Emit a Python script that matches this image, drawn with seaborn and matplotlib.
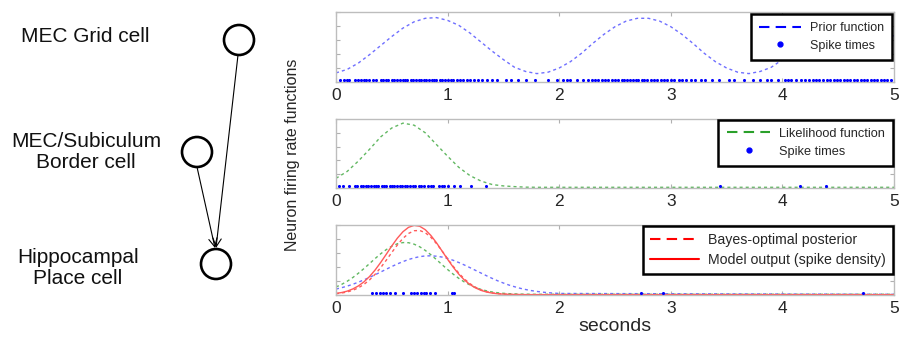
import numpy as np
import matplotlib.pyplot as plt
import seaborn as sns
from matplotlib.lines import Line2D
from matplotlib.patches import Circle

sns.set_theme(style='white')
plt.rcParams['font.family'] = ['Liberation Sans', 'DejaVu Sans']

# ---- data ----
# panels 1 and 2 sampled every 0.1 s from 0 to 5 s
t_coarse = np.round(np.arange(0, 5.01, 0.1), 2)
prior = [0.13, 0.18, 0.27, 0.39, 0.52, 0.65, 0.77, 0.86, 0.91, 0.92,
         0.88, 0.81, 0.70, 0.57, 0.44, 0.32, 0.21, 0.15, 0.12, 0.14,
         0.20, 0.29, 0.41, 0.55, 0.68, 0.79, 0.87, 0.91, 0.91, 0.87,
         0.79, 0.68, 0.55, 0.41, 0.29, 0.20, 0.14, 0.12, 0.15, 0.21,
         0.32, 0.44, 0.57, 0.70, 0.81, 0.88, 0.92, 0.91, 0.86, 0.77, 0.65]
likelihood = [0.14, 0.24, 0.39, 0.56, 0.74, 0.87, 0.94, 0.91, 0.80, 0.63,
              0.46, 0.30, 0.18, 0.10, 0.05, 0.03, 0.02, 0.012] + [0.01] * 33

# panel 3 sampled every 0.05 s up to 2 s, then flat to 5 s
t_fine = list(np.round(np.arange(0, 2.001, 0.05), 2)) + [5.0]
posterior = [0.018, 0.028, 0.043, 0.067, 0.102, 0.151, 0.215, 0.295, 0.390, 0.496,
             0.608, 0.715, 0.809, 0.879, 0.918, 0.922, 0.890, 0.825, 0.735, 0.630,
             0.518, 0.411, 0.313, 0.229, 0.162, 0.111, 0.073, 0.047, 0.030, 0.020,
             0.013, 0.009, 0.007, 0.006] + [0.005] * 8
model_out = [0.023, 0.035, 0.055, 0.086, 0.129, 0.187, 0.263, 0.356, 0.464, 0.581,
             0.701, 0.812, 0.904, 0.967, 0.994, 0.982, 0.933, 0.851, 0.747, 0.629,
             0.510, 0.398, 0.298, 0.215, 0.150, 0.101, 0.066, 0.042, 0.027, 0.017,
             0.012, 0.008, 0.007, 0.006] + [0.005] * 8
likelihood3 = [0.114, 0.151, 0.196, 0.249, 0.310, 0.377, 0.448, 0.520, 0.588, 0.648,
               0.697, 0.732, 0.749, 0.747, 0.726, 0.689, 0.637, 0.575, 0.506, 0.434,
               0.364, 0.298, 0.238, 0.186, 0.143, 0.107, 0.080, 0.059, 0.043, 0.032,
               0.024, 0.019, 0.016, 0.013, 0.012, 0.011] + [0.010] * 6
prior3 = [0.085, 0.104, 0.127, 0.153, 0.183, 0.216, 0.251, 0.289, 0.328, 0.368,
          0.407, 0.444, 0.477, 0.507, 0.530, 0.548, 0.558, 0.560, 0.554, 0.542,
          0.522, 0.496, 0.464, 0.429, 0.391, 0.352, 0.313, 0.274, 0.237, 0.202,
          0.171, 0.142, 0.118, 0.096, 0.078, 0.063, 0.051, 0.041, 0.033, 0.027,
          0.022, 0.010]

spikes_grid = [0.04, 0.07, 0.10, 0.12, 0.17, 0.20, 0.22, 0.25, 0.27, 0.30, 0.33, 0.36,
               0.40, 0.42, 0.45, 0.47, 0.50, 0.52, 0.55, 0.57, 0.60, 0.62, 0.64, 0.67,
               0.69, 0.72, 0.74, 0.76, 0.79, 0.81, 0.83, 0.86, 0.88, 0.90, 0.93, 0.95,
               0.98, 1.00, 1.03, 1.05, 1.08, 1.11, 1.14, 1.17, 1.20, 1.24, 1.27, 1.31,
               1.35, 1.40, 1.44, 1.52, 1.57, 1.63, 1.70, 1.78, 1.90, 1.98, 2.03, 2.07,
               2.10, 2.16, 2.21, 2.26, 2.29, 2.32, 2.35, 2.38, 2.41, 2.44, 2.47, 2.50,
               2.53, 2.56, 2.58, 2.61, 2.63, 2.66, 2.69, 2.71, 2.74, 2.76, 2.79, 2.82,
               2.85, 2.88, 2.91, 2.94, 2.97, 3.00, 3.03, 3.07, 3.10, 3.14, 3.18, 3.22,
               3.27, 3.31, 3.37, 3.43, 3.52, 3.57, 3.66, 3.74, 3.80, 3.86, 3.90, 3.96,
               4.02, 4.05, 4.08, 4.12, 4.17, 4.20, 4.24, 4.27, 4.30, 4.33, 4.36, 4.40,
               4.43, 4.46, 4.49, 4.52, 4.55, 4.58, 4.61, 4.64, 4.67, 4.70, 4.73, 4.76,
               4.79, 4.82, 4.85, 4.88, 4.91, 4.94, 4.97]
spikes_border = [0.03, 0.06, 0.12, 0.17, 0.19, 0.22, 0.24, 0.27, 0.29, 0.31, 0.34, 0.36,
                 0.38, 0.41, 0.43, 0.45, 0.48, 0.50, 0.52, 0.55, 0.57, 0.59, 0.62, 0.64,
                 0.66, 0.69, 0.71, 0.74, 0.76, 0.79, 0.82, 0.85, 0.87, 0.92, 0.95, 0.97,
                 1.00, 1.06, 1.11, 1.21, 1.34, 3.44, 4.16, 4.39]
spikes_place = [0.32, 0.36, 0.39, 0.42, 0.45, 0.48, 0.53, 0.60, 0.67, 0.70, 0.73, 0.76,
                0.79, 0.81, 0.84, 0.89, 1.04, 1.06, 2.73, 2.93, 4.72]

xticks = [0, 1, 2, 3, 4, 5]

BLUE_C = '#6f6fff'
GREEN_C = '#62b862'
RED_C = '#ff5a5a'
DASH = (0, (2.2, 2.2))

W, H = 906, 339
fig = plt.figure(figsize=(W / 100, H / 100), dpi=100)


def px_axes(left, top, right, bottom):
    return fig.add_axes([left / W, 1 - bottom / H, (right - left) / W, (bottom - top) / H])


# ---- left diagram ----
ax0 = fig.add_axes([0, 0, 1, 1])
ax0.set_xlim(0, W)
ax0.set_ylim(H, 0)
ax0.axis('off')
for cx, cy in [(239, 40), (197, 152), (216, 264)]:
    ax0.add_patch(Circle((cx, cy), 15, fill=False, lw=1.9, ec='black'))
arrow = dict(arrowstyle='->', lw=0.8, color='black', shrinkA=0, shrinkB=0, mutation_scale=15)
ax0.annotate('', xy=(216, 248), xytext=(238, 55), arrowprops=arrow)
ax0.annotate('', xy=(215, 248), xytext=(197, 167), arrowprops=arrow)
ax0.text(85, 37, 'MEC Grid cell', ha='center', va='center', fontsize=15, color='#111111')
ax0.text(86, 152, 'MEC/Subiculum\nBorder cell', ha='center', va='center', fontsize=15,
         linespacing=1.1, color='#111111')
ax0.text(78, 268, 'Hippocampal\nPlace cell', ha='center', va='center', fontsize=15,
         linespacing=1.1, color='#111111')
fig.text(293 / W, 1 - 155 / H, 'Neuron firing rate functions', rotation=90,
         ha='center', va='center', fontsize=11.5)


def style_axes(ax):
    ax.set_xlim(0, 5)
    ax.set_ylim(0, 1)
    ax.set_xticks(xticks)
    ax.set_yticks(np.linspace(0, 1, 6))
    ax.tick_params(axis='both', direction='in', length=3, color='#b0b0b0', width=0.8,
                   bottom=True, left=True, top=True, right=True, labelsize=12.5, pad=4)
    ax.tick_params(axis='y', labelleft=False)
    for s in ax.spines.values():
        s.set_color('#bdbdbd')
        s.set_linewidth(1)
    ax.set_xlabel('')
    ax.set_ylabel('')


def spikes(ax, times):
    sns.scatterplot(x=times, y=[0.025] * len(times), ax=ax, color='blue', s=5,
                    marker='o', linewidth=0, legend=False, zorder=3)


def legend(ax, handles, labels, fs, pad, bpad=0.55):
    leg = ax.legend(handles, labels, loc='upper right', bbox_to_anchor=(1, 1),
                    borderaxespad=pad, fontsize=fs, handlelength=3.4, handletextpad=0.7,
                    labelspacing=0.45, borderpad=bpad, frameon=True, fancybox=False,
                    framealpha=1, edgecolor='black')
    leg.get_frame().set_linewidth(1.8)
    leg.set_zorder(5)


spike_h = Line2D([], [], color='blue', ls='none', marker='o', ms=3.5)

# ---- panel 1: grid cell ----
ax1 = px_axes(336, 12, 894, 82)
sns.lineplot(x=t_coarse, y=prior, ax=ax1, color=BLUE_C, lw=1, linestyle=DASH)
spikes(ax1, spikes_grid)
style_axes(ax1)
legend(ax1, [Line2D([], [], color='blue', ls=(0, (5, 3)), lw=1.5), spike_h],
       ['Prior function', 'Spike times'], 9, 0.15, 0.65)

# ---- panel 2: border cell ----
ax2 = px_axes(336, 119, 894, 188)
sns.lineplot(x=t_coarse, y=likelihood, ax=ax2, color=GREEN_C, lw=1, linestyle=DASH)
spikes(ax2, spikes_border)
style_axes(ax2)
legend(ax2, [Line2D([], [], color='#2aa02a', ls=(0, (5, 3)), lw=1.5), spike_h],
       ['Likelihood function', 'Spike times'], 9.2, 0.05, 0.65)

# ---- panel 3: place cell ----
ax3 = px_axes(336, 225, 894, 295)
sns.lineplot(x=t_fine, y=prior3, ax=ax3, color=BLUE_C, lw=1, linestyle=DASH)
sns.lineplot(x=t_fine, y=likelihood3, ax=ax3, color=GREEN_C, lw=1, linestyle=DASH)
sns.lineplot(x=t_fine, y=posterior, ax=ax3, color=RED_C, lw=1, linestyle=DASH)
sns.lineplot(x=t_fine, y=model_out, ax=ax3, color=RED_C, lw=1)
spikes(ax3, spikes_place)
style_axes(ax3)
ax3.set_xlabel('seconds', fontsize=14, labelpad=2)
legend(ax3, [Line2D([], [], color='red', ls=(0, (5, 3)), lw=1.5),
             Line2D([], [], color='red', lw=1.5)],
       ['Bayes-optimal posterior', 'Model output (spike density)'], 10.2, 0.05, 0.5)

fig.savefig('out.png', dpi=100)
